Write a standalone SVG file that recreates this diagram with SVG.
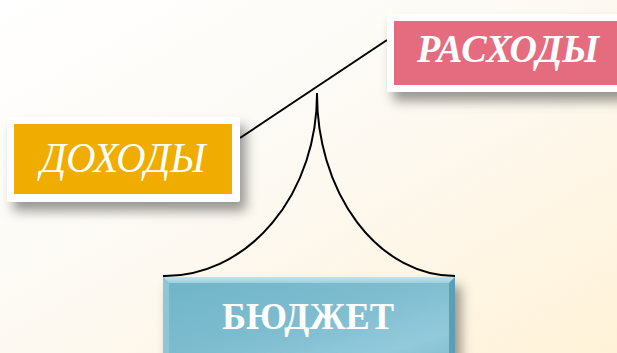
<svg xmlns="http://www.w3.org/2000/svg" width="617" height="353" viewBox="0 0 617 353">
<defs>
<linearGradient id="bg" x1="0" y1="0" x2="1" y2="1">
<stop offset="0" stop-color="#ffffff"/>
<stop offset="0.45" stop-color="#fdfaf4"/>
<stop offset="1" stop-color="#fff2d8"/>
</linearGradient>
<linearGradient id="teal" x1="0" y1="0" x2="1" y2="1">
<stop offset="0" stop-color="#6fb4c8"/>
<stop offset="0.5" stop-color="#7fbdd0"/>
<stop offset="0.8" stop-color="#93cadb"/>
<stop offset="1" stop-color="#7cbacc"/>
</linearGradient>
<linearGradient id="bevTop" x1="0" y1="0" x2="0" y2="1">
<stop offset="0" stop-color="#c4e3ec"/>
<stop offset="1" stop-color="#9ccfdd"/>
</linearGradient>
<filter id="sh" x="-20%" y="-20%" width="150%" height="160%">
<feDropShadow dx="6" dy="9" stdDeviation="6" flood-color="#000" flood-opacity="0.4"/>
</filter>
<style>
.frame{fill:#fff;filter:url(#sh)}
.lbl{fill:#fff;font-family:"Liberation Serif","DejaVu Serif",serif;text-anchor:middle}
.conn{fill:none;stroke:#000;stroke-width:2}
</style>
</defs>
<rect width="617" height="353" fill="url(#bg)"/>
<g id="connectors">
<line class="conn" x1="240" y1="138" x2="387" y2="40"/>
<path class="conn" d="M317,93 A152,182 0 0 1 163,276"/>
<path class="conn" d="M317,93 A138,182 0 0 0 455,276"/>
</g>
<g id="dohody">
<rect class="frame" x="7" y="117" width="233" height="85" rx="3"/>
<rect x="14" y="124" width="218" height="70" fill="#f0ad00"/>
<text class="lbl" x="123" y="172" font-size="42" font-style="italic" textLength="165" lengthAdjust="spacingAndGlyphs">ДОХОДЫ</text>
</g>
<g id="rashody">
<rect class="frame" x="387" y="14" width="240" height="78" rx="3"/>
<rect x="394" y="21" width="230" height="64" fill="#e46c7e"/>
<text class="lbl" x="508" y="62" font-size="40" font-style="italic" font-weight="bold" textLength="182" lengthAdjust="spacingAndGlyphs">РАСХОДЫ</text>
</g>
<g id="budget">
<rect x="163" y="277" width="292" height="90" fill="url(#teal)" filter="url(#sh)"/>
<polygon points="163,277 455,277 449,283 169,283" fill="url(#bevTop)"/>
<polygon points="163,277 169,283 169,353 163,353" fill="#8ec6d6"/>
<polygon points="455,277 449,283 449,353 455,353" fill="#5c9fb4"/>
<text class="lbl" x="308" y="329" font-size="38" font-weight="bold" textLength="172" lengthAdjust="spacingAndGlyphs">БЮДЖЕТ</text>
</g>
</svg>
